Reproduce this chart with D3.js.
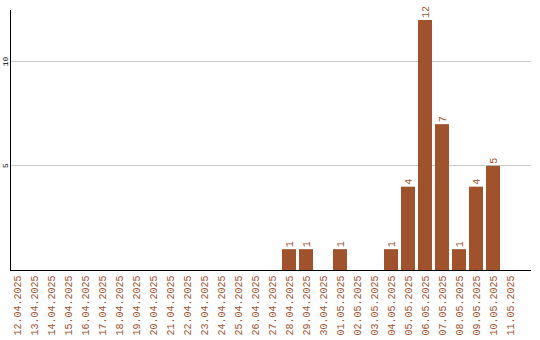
<!DOCTYPE html>
<html><head><meta charset="utf-8">
<script src="https://cdn.jsdelivr.net/npm/d3@7"></script>
<style>body{margin:0;background:#fff}svg{display:block}</style>
</head><body>
<script>
const categories = ["12.04.2025","13.04.2025","14.04.2025","15.04.2025","16.04.2025","17.04.2025","18.04.2025","19.04.2025","20.04.2025","21.04.2025","22.04.2025","23.04.2025","24.04.2025","25.04.2025","26.04.2025","27.04.2025","28.04.2025","29.04.2025","30.04.2025","01.05.2025","02.05.2025","03.05.2025","04.05.2025","05.05.2025","06.05.2025","07.05.2025","08.05.2025","09.05.2025","10.05.2025","11.05.2025"];
const values = [0,0,0,0,0,0,0,0,0,0,0,0,0,0,0,0,1,1,0,1,0,0,1,4,12,7,1,4,5,0];
const yTicks = [5,10];

const W = 540, H = 340;
const svg = d3.select("body").append("svg").attr("width", W).attr("height", H);
const color = "#a0522d";
const font = "Liberation Mono, DejaVu Sans Mono, monospace";

const x = d3.scaleBand().domain(categories).range([8.5, 518.5])
  .paddingInner(3/17).paddingOuter(1.5/17);
const y = d3.scaleLinear().domain([0, 12]).range([270, 20]);

// gridlines
svg.append("g").selectAll("line").data(yTicks).join("line")
  .attr("x1", 11).attr("x2", 531)
  .attr("y1", d => Math.round(y(d)) - 0.5).attr("y2", d => Math.round(y(d)) - 0.5)
  .attr("stroke", "#c8c8c8").attr("stroke-width", 1);

// y tick labels
svg.append("g").selectAll("text").data(yTicks).join("text")
  .attr("transform", d => `translate(7.5,${Math.round(y(d)) - 0.5}) rotate(-90)`)
  .attr("text-anchor", "middle")
  .attr("font-family", font).attr("font-size", 8)
  .attr("fill", "#000").text(d => d);

const rows = categories.map((c,i)=>({c, v: values[i]})).filter(d => d.v > 0);
const bw = x.bandwidth();

// bars
svg.append("g").selectAll("rect").data(rows).join("rect")
  .attr("x", d => x(d.c)).attr("width", bw)
  .attr("y", d => y(d.v)).attr("height", d => y(0) - y(d.v))
  .attr("fill", color);

// value labels
svg.append("g").selectAll("text").data(rows).join("text")
  .attr("transform", d => `translate(${x(d.c) + bw/2 + 3.5},${y(d.v) - 2}) rotate(-90)`)
  .attr("text-anchor", "start")
  .attr("font-family", font).attr("font-size", 10)
  .attr("fill", color).text(d => d.v);

// x labels
svg.append("g").selectAll("text").data(categories).join("text")
  .attr("transform", d => `translate(${x(d) + bw/2 + 3.5},275.5) rotate(-90)`)
  .attr("text-anchor", "end")
  .attr("font-family", font).attr("font-size", 10)
  .attr("fill", color).text(d => d);

// axes lines
svg.append("line").attr("x1", 10.5).attr("x2", 10.5).attr("y1", 10).attr("y2", 271)
  .attr("stroke", "#000").attr("stroke-width", 1);
svg.append("line").attr("x1", 10).attr("x2", 531).attr("y1", 270.5).attr("y2", 270.5)
  .attr("stroke", "#000").attr("stroke-width", 1);
</script>
</body></html>
